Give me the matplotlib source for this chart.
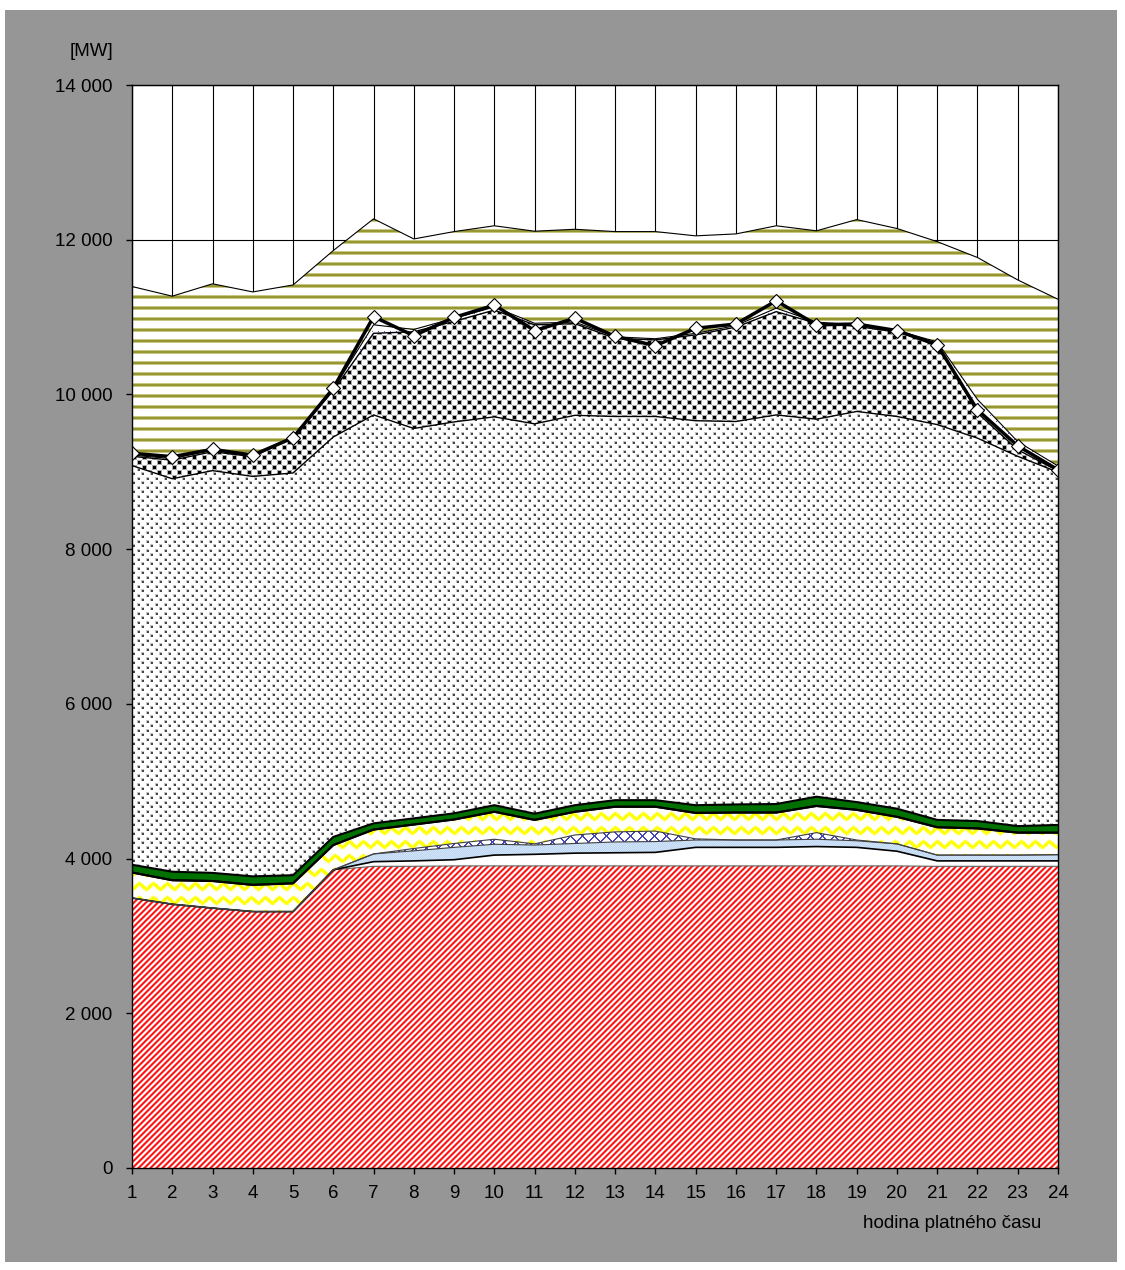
import matplotlib

matplotlib.use("Agg")

import matplotlib.pyplot as plt
import numpy as np
from matplotlib.patches import Rectangle
from matplotlib.ticker import FuncFormatter

plt.rcParams["font.family"] = ["Liberation Sans", "DejaVu Sans"]

hours = np.arange(1, 25)

# stacked components [MW], bottom to top
red_part = [3490, 3410, 3360, 3315, 3315, 3855, 3900, 3900, 3905, 3905, 3905, 3905,
            3905, 3905, 3905, 3905, 3905, 3905, 3905, 3905, 3900, 3900, 3900, 3900]
white_part = [0, 0, 0, 0, 0, 0, 60, 70, 80, 140, 150, 165,
              170, 175, 240, 240, 240, 250, 240, 190, 70, 70, 70, 70]
lightblue_part = [0, 0, 0, 0, 0, 0, 100, 130, 160, 140, 120, 125,
                  140, 140, 95, 95, 95, 95, 85, 95, 75, 75, 75, 80]
bluex_part = [0, 0, 0, 0, 0, 0, 0, 30, 50, 65, 15, 110,
              130, 135, 15, 0, 0, 85, 10, 0, 0, 0, 0, 0]
yellow_part = [330, 310, 350, 345, 365, 320, 315, 310, 310, 355, 310, 300,
               325, 315, 335, 355, 355, 345, 390, 350, 360, 345, 290, 285]
green_part = [100, 110, 105, 110, 105, 105, 80, 80, 80, 85, 80, 85,
              85, 85, 100, 105, 110, 120, 100, 105, 95, 95, 85, 100]
graydot_part = [5160, 5080, 5200, 5170, 5200, 5170, 5280, 5040, 5060, 5020, 5040, 5040,
                4960, 4960, 4970, 4950, 5030, 4880, 5050, 5070, 5110, 4950, 4780, 4560]
blacksq_part = [120, 240, 245, 255, 455, 600, 1055, 1250, 1300, 1380, 1280, 1185,
                1010, 990, 1110, 1220, 1335, 1240, 1100, 1090, 1055, 325, 85, 15]
smallblue_part = [15, 20, 20, 20, 15, 20, 110, 30, 40, 40, 20, 20,
                  20, 15, 20, 20, 45, 15, 20, 20, 15, 175, 105, 65]
olive_part = [2180, 2100, 2150, 2110, 1960, 1790, 1370, 1170, 1120, 1050, 1190, 1200,
              1360, 1385, 1260, 1185, 1065, 1180, 1360, 1320, 1295, 1835, 2090, 2155]

# load line with diamonds
load = [9240, 9195, 9290, 9215, 9440, 10080, 11005, 10760, 10995, 11155, 10825, 10985,
        10750, 10630, 10855, 10910, 11210, 10900, 10910, 10825, 10640, 9800, 9335, 9025]

W, H = 1125, 1270
AX_L, AX_R, AX_T, AX_B = 132, 1058, 85, 1168
PW, PH = AX_R - AX_L, AX_B - AX_T

# ---- pattern textures (pixel tiles covering the plot area) ----
ii, jj = np.mgrid[0:PH, 0:PW]


def rgb(mask_colors):
    img = np.ones((PH, PW, 3))
    for mask, col in mask_colors:
        img[mask] = np.array(col) / 255.0
    return img


def stagger(period, lo, hi):
    a = ((ii % period >= lo) & (ii % period < hi) & (jj % period >= lo) & (jj % period < hi))
    h = period // 2
    b = (((ii + h) % period >= lo) & ((ii + h) % period < hi) &
         ((jj + h) % period >= lo) & ((jj + h) % period < hi))
    return a | b


def tex_red():
    k = (ii + jj) % 6
    return rgb([((k == 1) | (k == 4), (255, 140, 140)), ((k == 2) | (k == 3), (255, 20, 20))])


def tex_zigzag():
    tri = np.abs((jj % 14) - 7) / 7.0 * 6.0
    d = (ii - tri) % 14
    dd = np.minimum(d, 14 - d)
    return rgb([(dd < 2.8, (255, 255, 140)), (dd < 1.6, (255, 255, 0))])


def tex_graydots():
    return rgb([(stagger(9, 0, 3), (195, 195, 195)), (stagger(9, 1, 3), (70, 70, 70))])


def tex_blacksq():
    return rgb([(stagger(10, 0, 5), (170, 170, 170)), (stagger(10, 1, 4), (0, 0, 0))])


def tex_olive():
    r = ii % 11
    return rgb([((r == 1) | (r == 4), (200, 200, 130)), ((r == 2) | (r == 3), (150, 150, 50))])


def tex_lightblue():
    return rgb([(np.ones_like(ii, dtype=bool), (210, 228, 248)),
                ((ii + jj) % 2 == 0, (190, 214, 242))])


def tex_bluex():
    m = ((ii + jj) % 12 == 0) | ((ii - jj) % 12 == 0) | ((ii + jj) % 12 == 1) | ((ii - jj) % 12 == 1)
    return rgb([(m, (70, 70, 180))])


def tex_smallblue():
    m = (ii % 6 == 0) & (jj % 6 == 0)
    return rgb([(m, (90, 90, 220))])


layers = [
    (red_part, tex_red, None, "#606060", 0.8),
    (white_part, None, "white", "black", 1.2),
    (lightblue_part, tex_lightblue, None, "#404040", 0.8),
    (bluex_part, tex_bluex, None, "#404040", 0.8),
    (yellow_part, tex_zigzag, None, "black", 1.5),
    (green_part, None, "#007000", "black", 1.5),
    (graydot_part, tex_graydots, None, "black", 1.0),
    (blacksq_part, tex_blacksq, None, "black", 1.0),
    (smallblue_part, tex_smallblue, None, "black", 0.8),
    (olive_part, tex_olive, None, "black", 0.8),
]

fig = plt.figure(figsize=(W / 100, H / 100), dpi=100, facecolor="white")
fig.patches.append(Rectangle((5 / W, 8 / H), 1112 / W, 1252 / H, transform=fig.transFigure,
                             facecolor="#969696", edgecolor="none", zorder=-10))
ax = fig.add_axes([AX_L / W, (H - AX_B) / H, PW / W, PH / H])
ax.set_facecolor("white")

bottom = np.zeros(len(hours))
for vals, tex, face, edge, lw in layers:
    top = bottom + np.array(vals, dtype=float)
    coll = ax.fill_between(hours, bottom, top, facecolor=face if face else "none",
                           edgecolor="none", linewidth=0, zorder=1)
    if tex is not None:
        im = ax.imshow(tex(), extent=(1, 24, 0, 14000), aspect="auto",
                       interpolation="nearest", zorder=1.1)
        im.set_clip_path(coll.get_paths()[0], transform=ax.transData)
    ax.plot(hours, top, color=edge, lw=lw, zorder=3)
    if face == "#007000":
        ax.plot(hours, bottom, color=edge, lw=lw, zorder=3)
    bottom = top

ax.plot(hours, load, color="black", lw=2.5, marker="D", markersize=7.5,
        markerfacecolor="white", markeredgecolor="black", markeredgewidth=0.8, zorder=4)

ax.set_xlim(1, 24)
ax.set_ylim(0, 14000)
ax.set_xticks(hours)
ax.set_yticks(np.arange(0, 14001, 2000))
ax.yaxis.set_major_formatter(FuncFormatter(lambda v, p: f"{int(v):,}".replace(",", " ")))
ax.set_axisbelow(True)
ax.grid(True, color="black", lw=0.8)
ax.tick_params(axis="y", length=4, width=1, pad=10, labelsize=13.5)
ax.tick_params(axis="x", length=4, width=1, pad=8, labelsize=13.5)
for s in ax.spines.values():
    s.set_color("black")
    s.set_linewidth(1)
    s.set_zorder(5)

fig.text(113 / W, (H - 52) / H, "[MW]", ha="right", va="center", fontsize=13.5)
fig.text(1041 / W, (H - 1223) / H, "hodina platného času", ha="right", va="center", fontsize=13.5)

fig.savefig("out.png", dpi=100)
plt.close(fig)
